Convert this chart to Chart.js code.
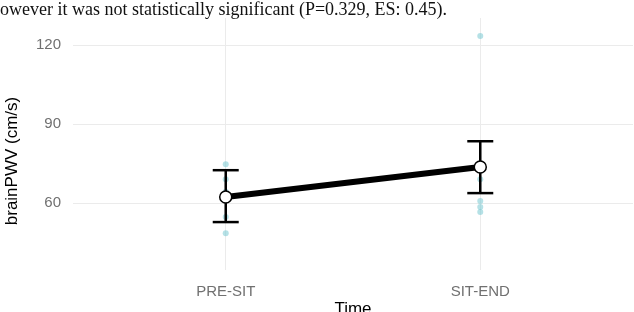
<!DOCTYPE html>
<html>
<head>
<meta charset="utf-8">
<script src="https://cdn.jsdelivr.net/npm/chart.js@4/dist/chart.umd.min.js"></script>
<style>
  html, body { margin: 0; padding: 0; background: #fff; }
  #wrap { position: relative; width: 634px; height: 312px; overflow: hidden; }
  #chart { position: absolute; left: 0; top: 0; }
  .paper-text {
    position: absolute; left: 0; top: 0; z-index: 2;
    font: 18px "Liberation Serif", "DejaVu Serif", serif; color: #111;
    white-space: nowrap; line-height: 1;
  }
</style>
</head>
<body>
<div id="wrap">
  <div class="paper-text">owever it was not statistically significant (P=0.329, ES: 0.45).</div>
  <canvas id="chart" width="634" height="312"></canvas>
</div>
<script>
// categories on the x axis
const categories = ["PRE-SIT", "SIT-END"];
// group means and error bar limits (cm/s)
const meanValues = [62.3, 73.7];
const lowerValues = [52.8, 63.8];
const upperValues = [72.5, 83.5];
// individual observations
const preSitValues = [74.8, 69.1, 64.3, 54.7, 48.6];
const sitEndValues = [123.5, 69.1, 60.8, 58.5, 56.6];
// y tick labels
const yTicks = [60, 90, 120];

const yTitle = "brainPWV (cm/s)";
const xTitle = "Time";

const rawPoints = [
  ...preSitValues.map((v) => ({ x: 0, y: v })),
  ...sitEndValues.map((v) => ({ x: 1, y: v })),
];

// one small dataset per error bar (vertical line + caps)
const errorBarSets = categories.map((c, i) => ({
  type: "scatter",
  label: "err-" + c,
  data: [
    { x: i, y: lowerValues[i] },
    { x: i, y: upperValues[i] },
  ],
  showLine: true,
  borderColor: "#000",
  borderWidth: 2.5,
  pointStyle: "line",
  pointRadius: 13,
  pointBorderWidth: 2.5,
  pointBorderColor: "#000",
  order: 2,
}));

// axis titles drawn at ggplot-like positions
const axisTitles = {
  id: "axisTitles",
  afterDraw(chart) {
    const ctx = chart.ctx;
    const area = chart.chartArea;
    ctx.save();
    ctx.fillStyle = "#000";
    ctx.font = '17px "Liberation Sans", Arial, sans-serif';
    ctx.textAlign = "center";
    ctx.textBaseline = "middle";
    ctx.fillText(xTitle, (area.left + area.right) / 2, 309);
    ctx.translate(12, 161);
    ctx.rotate(-Math.PI / 2);
    ctx.fillText(yTitle, 0, 0);
    ctx.restore();
  },
};

new Chart(document.getElementById("chart"), {
  type: "scatter",
  data: {
    datasets: [
      {
        type: "line",
        label: "mean",
        data: categories.map((c, i) => ({ x: i, y: meanValues[i] })),
        borderColor: "#000",
        borderWidth: 6,
        pointRadius: 6,
        pointBackgroundColor: "#fff",
        pointBorderColor: "#000",
        pointBorderWidth: 1.5,
        order: 0,
      },
      ...errorBarSets,
      {
        label: "observations",
        data: rawPoints,
        pointRadius: 3,
        pointBackgroundColor: "rgba(120, 200, 210, 0.55)",
        pointBorderWidth: 0,
        order: 3,
      },
    ],
  },
  options: {
    responsive: false,
    animation: false,
    layout: { autoPadding: false, padding: { top: 18, right: 1, left: 0, bottom: 0 } },
    plugins: {
      legend: { display: false },
      tooltip: { enabled: false },
    },
    scales: {
      x: {
        type: "linear",
        min: -0.6,
        max: 1.6,
        afterBuildTicks: (scale) => {
          scale.ticks = categories.map((c, i) => ({ value: i }));
        },
        afterFit: (scale) => {
          scale.height = 42;
          scale.paddingLeft = 0;
          scale.paddingRight = 0;
        },
        ticks: {
          callback: (v) => categories[v],
          color: "#707070",
          font: { family: '"Liberation Sans", Arial, sans-serif', size: 15 },
          padding: 13,
          maxRotation: 0,
        },
        grid: { color: "#ebebeb", lineWidth: 1, drawTicks: false },
        border: { display: false },
      },
      y: {
        min: 34.6,
        max: 130.3,
        afterBuildTicks: (scale) => {
          scale.ticks = yTicks.map((v) => ({ value: v }));
        },
        afterFit: (scale) => {
          scale.width = 73;
          scale.paddingTop = 0;
          scale.paddingBottom = 0;
        },
        ticks: {
          color: "#707070",
          font: { family: '"Liberation Sans", Arial, sans-serif', size: 15 },
          padding: 12,
        },
        grid: { color: "#ebebeb", lineWidth: 1, drawTicks: false },
        border: { display: false },
      },
    },
  },
  plugins: [axisTitles],
});
</script>
</body>
</html>
